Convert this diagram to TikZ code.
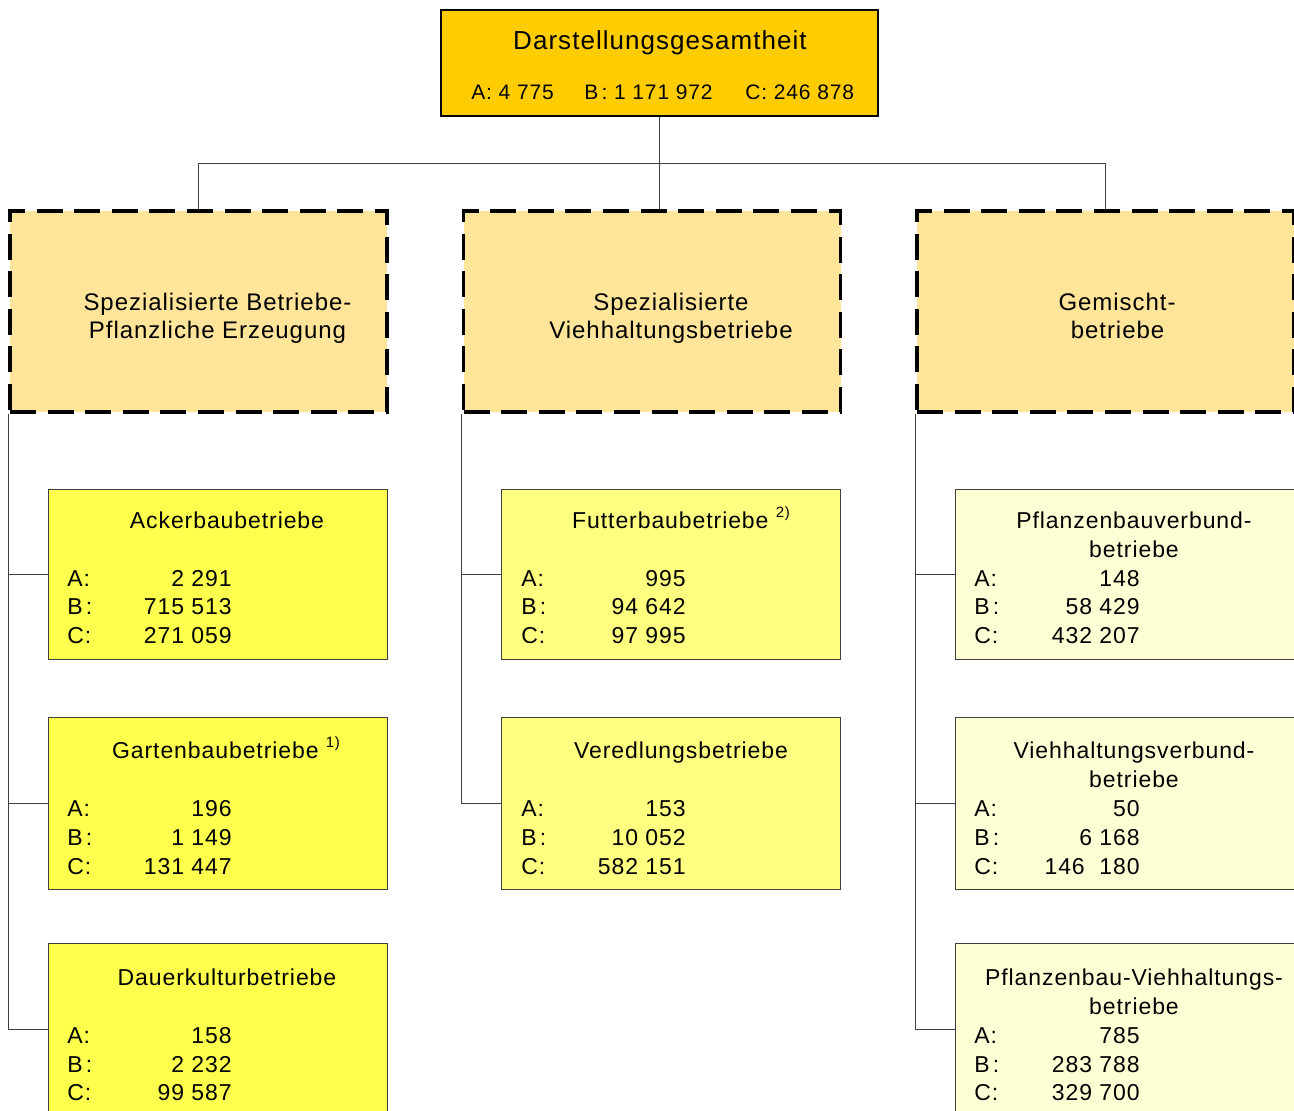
\documentclass[tikz,border=0pt]{standalone}
\usepackage{fontspec}
\setmainfont[LetterSpace=4]{Liberation Sans}
\definecolor{gesamtgelb}{RGB}{255,204,0}
\definecolor{gruppengelb}{RGB}{255,229,153}
\definecolor{pflanzgelb}{RGB}{255,255,77}
\definecolor{viehgelb}{RGB}{255,255,128}
\definecolor{mischgelb}{RGB}{255,255,214}
\tikzset{
  gesamtbox/.style={draw, line width=1.2pt, fill=gesamtgelb, minimum width=218.5pt, minimum height=53pt, inner sep=0pt},
  gruppenbox/.style={draw, line width=1.6pt, dash pattern=on 13pt off 5.8pt, fill=gruppengelb, minimum width=188.5pt, minimum height=100.5pt, inner sep=0pt},
  blattbox/.style={draw=black!75, line width=0.5pt, minimum width=169.5pt, inner sep=0pt},
  verbinder/.style={line width=0.5pt, black!75},
  titel/.style={anchor=base, inner sep=0pt, font=\fontsize{11.5}{14}\selectfont},
  gruppentext/.style={anchor=base, inner sep=0pt, font=\fontsize{12}{14}\selectfont},
  kennung/.style={anchor=base west, inner sep=0pt, font=\fontsize{11.5}{14}\selectfont},
  wert/.style={anchor=base east, inner sep=0pt, font=\fontsize{11.5}{14}\selectfont},
}
\newcommand{\fussnote}[1]{\raisebox{0.85ex}{\fontsize{7.5}{8}\selectfont #1}}
\newcommand{\bdp}{B\hspace{1.6pt}:}
\begin{document}
\begin{tikzpicture}[x=0.5pt,y=-0.5pt]
  \clip (0,0) rectangle (1294,1110);
  \fill[white] (0,0) rectangle (1294,1110);

  % Gesamtheit
  \node[gesamtbox] (gesamt) at (659.5,63) {};
  \node[anchor=base, inner sep=0pt, font=\fontsize{13}{15}\selectfont] (gesamttitel) at (660,49.7) {Darstellungsgesamtheit};
  \node[anchor=base west, inner sep=0pt, font=\fontsize{10.5}{12}\selectfont] (gesamtA) at (471,99.7) {A: 4 775};
  \node[anchor=base west, inner sep=0pt, font=\fontsize{10.5}{12}\selectfont] (gesamtB) at (584,99.7) {\bdp{} 1 171 972};
  \node[anchor=base west, inner sep=0pt, font=\fontsize{10.5}{12}\selectfont] (gesamtC) at (745,99.7) {C: 246 878};

  % Gruppen
  \node[gruppenbox] (grpL) at (198.5,311.5) {};
  \node[gruppenbox] (grpM) at (652,311.5) {};
  \node[gruppenbox] (grpR) at (1105.5,311.5) {};
  \node[gruppentext] (grpLa) at (217.5,310) {Spezialisierte Betriebe-};
  \node[gruppentext] (grpLb) at (217.5,338) {Pflanzliche Erzeugung};
  \node[gruppentext] (grpMa) at (671,310) {Spezialisierte};
  \node[gruppentext] (grpMb) at (671,338) {Viehhaltungsbetriebe};
  \node[gruppentext] (grpRa) at (1117,310) {Gemischt-};
  \node[gruppentext] (grpRb) at (1117.5,338) {betriebe};

  \coordinate (bus) at (0,163);
  \draw[verbinder] (gesamt.south) -- (gesamt.south |- grpM.north);
  \draw[verbinder] (grpL.north) -- (grpL.north |- bus) -- (grpR.north |- bus) -- (grpR.north);

  % Pflanzliche Erzeugung
  \node[blattbox, fill=pflanzgelb, minimum height=85pt] (acker) at (217.5,574) {};
  \node[blattbox, fill=pflanzgelb, minimum height=86pt] (garten) at (217.5,803) {};
  \node[blattbox, fill=pflanzgelb, minimum height=86pt] (dauer) at (217.5,1029) {};
  \draw[verbinder] (grpL.south west) |- (dauer.west);
  \draw[verbinder] (acker.west) -- (acker.west -| grpL.west);
  \draw[verbinder] (garten.west) -- (garten.west -| grpL.west);

  \node[titel] (ackerT) at (227,528) {Ackerbaubetriebe};
  \node[kennung] (ackerA) at (67,586) {A:};
  \node[kennung] (ackerB) at (67,614) {\bdp};
  \node[kennung] (ackerC) at (67,643) {C:};
  \node[wert] (ackerAw) at (232,586) {2 291};
  \node[wert] (ackerBw) at (232,614) {715 513};
  \node[wert] (ackerCw) at (232,643) {271 059};

  \node[titel] (gartenT) at (226,758) {Gartenbaubetriebe \fussnote{1)}};
  \node[kennung] (gartenA) at (67,816) {A:};
  \node[kennung] (gartenB) at (67,845) {\bdp};
  \node[kennung] (gartenC) at (67,874) {C:};
  \node[wert] (gartenAw) at (232,816) {196};
  \node[wert] (gartenBw) at (232,845) {1 149};
  \node[wert] (gartenCw) at (232,874) {131 447};

  \node[titel] (dauerT) at (227,985) {Dauerkulturbetriebe};
  \node[kennung] (dauerA) at (67,1043) {A:};
  \node[kennung] (dauerB) at (67,1072) {\bdp};
  \node[kennung] (dauerC) at (67,1100) {C:};
  \node[wert] (dauerAw) at (232,1043) {158};
  \node[wert] (dauerBw) at (232,1072) {2 232};
  \node[wert] (dauerCw) at (232,1100) {99 587};

  % Viehhaltung
  \node[blattbox, fill=viehgelb, minimum height=85pt] (futter) at (671,574) {};
  \node[blattbox, fill=viehgelb, minimum height=86pt] (veredl) at (671,803) {};
  \draw[verbinder] (grpM.south west) |- (veredl.west);
  \draw[verbinder] (futter.west) -- (futter.west -| grpM.west);

  \node[titel] (futterT) at (681,528) {Futterbaubetriebe \fussnote{2)}};
  \node[kennung] (futterA) at (521,586) {A:};
  \node[kennung] (futterB) at (521,614) {\bdp};
  \node[kennung] (futterC) at (521,643) {C:};
  \node[wert] (futterAw) at (686,586) {995};
  \node[wert] (futterBw) at (686,614) {94 642};
  \node[wert] (futterCw) at (686,643) {97 995};

  \node[titel] (veredlT) at (681,758) {Veredlungsbetriebe};
  \node[kennung] (veredlA) at (521,816) {A:};
  \node[kennung] (veredlB) at (521,845) {\bdp};
  \node[kennung] (veredlC) at (521,874) {C:};
  \node[wert] (veredlAw) at (686,816) {153};
  \node[wert] (veredlBw) at (686,845) {10 052};
  \node[wert] (veredlCw) at (686,874) {582 151};

  % Gemischtbetriebe
  \node[blattbox, fill=mischgelb, minimum width=170.5pt, minimum height=85pt] (pverb) at (1125.5,574) {};
  \node[blattbox, fill=mischgelb, minimum width=170.5pt, minimum height=86pt] (vverb) at (1125.5,803) {};
  \node[blattbox, fill=mischgelb, minimum width=170.5pt, minimum height=86pt] (pvieh) at (1125.5,1029) {};
  \draw[verbinder] (grpR.south west) |- (pvieh.west);
  \draw[verbinder] (pverb.west) -- (pverb.west -| grpR.west);
  \draw[verbinder] (vverb.west) -- (vverb.west -| grpR.west);

  \node[titel] (pverbT) at (1134,528) {Pflanzenbauverbund-};
  \node[titel] (pverbT2) at (1134,557) {betriebe};
  \node[kennung] (pverbA) at (974,586) {A:};
  \node[kennung] (pverbB) at (974,614) {\bdp};
  \node[kennung] (pverbC) at (974,643) {C:};
  \node[wert] (pverbAw) at (1140,586) {148};
  \node[wert] (pverbBw) at (1140,614) {58 429};
  \node[wert] (pverbCw) at (1140,643) {432 207};

  \node[titel] (vverbT) at (1134,758) {Viehhaltungsverbund-};
  \node[titel] (vverbT2) at (1134,787) {betriebe};
  \node[kennung] (vverbA) at (974,816) {A:};
  \node[kennung] (vverbB) at (974,845) {\bdp};
  \node[kennung] (vverbC) at (974,874) {C:};
  \node[wert] (vverbAw) at (1140,816) {50};
  \node[wert] (vverbBw) at (1140,845) {6 168};
  \node[wert] (vverbCw) at (1140,874) {146 \ 180};

  \node[titel] (pviehT) at (1134,985) {Pflanzenbau-Viehhaltungs-};
  \node[titel] (pviehT2) at (1134,1014) {betriebe};
  \node[kennung] (pviehA) at (974,1043) {A:};
  \node[kennung] (pviehB) at (974,1072) {\bdp};
  \node[kennung] (pviehC) at (974,1100) {C:};
  \node[wert] (pviehAw) at (1140,1043) {785};
  \node[wert] (pviehBw) at (1140,1072) {283 788};
  \node[wert] (pviehCw) at (1140,1100) {329 700};
\end{tikzpicture}
\end{document}
